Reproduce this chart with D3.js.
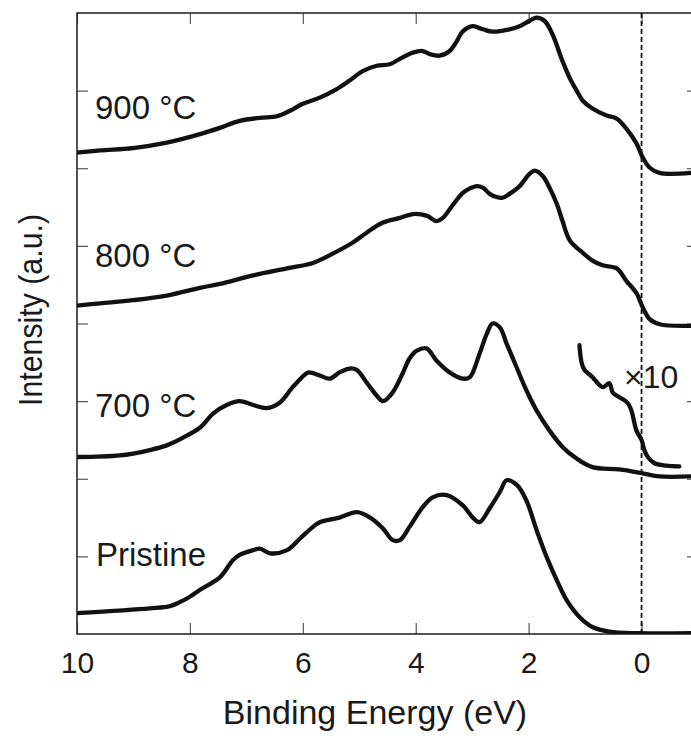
<!DOCTYPE html>
<html>
<head>
<meta charset="utf-8">
<script src="https://cdn.jsdelivr.net/npm/d3@7"></script>
<style>
  html, body { margin: 0; padding: 0; background: #fff; }
  svg { display: block; }
  text { font-family: "Liberation Sans", Arial, Helvetica, sans-serif; fill: #1a1a1a; }
</style>
</head>
<body>
<svg id="chart" width="691" height="736"></svg>
<script>
// ---- Data (binding energy in eV, intensity in arbitrary offset units) ----
const xTicks = [10, 8, 6, 4, 2, 0];
const yTicks = [1, 2, 3, 4, 5, 6, 7];
const seriesLabels = ["900 °C", "800 °C", "700 °C", "Pristine"];
const scaleLabel = "×10";

const pristineBE = [10.0, 8.71, 8.35, 8.18, 8.0, 7.82, 7.47, 7.24, 7.12, 6.88, 6.76, 6.58, 6.28, 6.05, 5.82, 5.70, 5.35, 5.04, 4.81, 4.58, 4.41, 4.28, 4.11, 3.88, 3.70, 3.45, 3.17, 2.99, 2.87, 2.69, 2.51, 2.39, 2.21, 2.04, 1.86, 1.68, 1.50, 1.33, 1.10, 0.87, 0.57, 0.04, -0.87];
const pristineI  = [0.27, 0.33, 0.36, 0.41, 0.48, 0.57, 0.73, 0.95, 1.02, 1.08, 1.10, 1.04, 1.08, 1.23, 1.38, 1.44, 1.50, 1.57, 1.50, 1.36, 1.21, 1.21, 1.38, 1.63, 1.76, 1.79, 1.66, 1.50, 1.44, 1.62, 1.83, 1.98, 1.92, 1.72, 1.34, 0.99, 0.69, 0.44, 0.22, 0.09, 0.03, 0.01, 0.01];

const t700BE = [10.0, 9.24, 8.71, 8.41, 8.12, 7.82, 7.59, 7.35, 7.12, 6.88, 6.64, 6.41, 6.18, 5.93, 5.88, 5.70, 5.52, 5.35, 5.17, 5.04, 4.87, 4.69, 4.58, 4.41, 4.23, 4.11, 3.98, 3.81, 3.63, 3.40, 3.17, 3.04, 2.87, 2.74, 2.64, 2.51, 2.39, 2.21, 2.04, 1.86, 1.63, 1.40, 1.15, 0.87, 0.39, -0.02, -0.32, -0.87];
const t700I  = [2.28, 2.30, 2.37, 2.43, 2.53, 2.66, 2.84, 2.95, 3.00, 2.95, 2.91, 2.98, 3.18, 3.36, 3.37, 3.33, 3.29, 3.37, 3.42, 3.40, 3.24, 3.07, 3.00, 3.11, 3.36, 3.55, 3.65, 3.68, 3.52, 3.37, 3.29, 3.31, 3.61, 3.87, 4.00, 3.95, 3.74, 3.43, 3.14, 2.88, 2.62, 2.41, 2.26, 2.15, 2.12, 2.07, 2.03, 2.03];

const t700x10BE = [1.10, 1.06, 1.01, 0.87, 0.69, 0.57, 0.51, 0.39, 0.25, 0.18, 0.09, 0.00, -0.05, -0.11, -0.23, -0.44, -0.67];
const t700x10I  = [3.72, 3.49, 3.40, 3.31, 3.18, 3.23, 3.11, 3.05, 2.98, 2.88, 2.62, 2.50, 2.37, 2.28, 2.20, 2.17, 2.16];

const t800BE = [10.0, 9.59, 9.01, 8.41, 7.82, 7.47, 6.88, 6.28, 5.82, 5.47, 5.12, 4.87, 4.58, 4.28, 4.05, 3.81, 3.63, 3.52, 3.35, 3.17, 3.04, 2.92, 2.81, 2.69, 2.57, 2.46, 2.34, 2.16, 1.98, 1.89, 1.75, 1.63, 1.50, 1.40, 1.27, 1.04, 0.87, 0.69, 0.44, 0.27, 0.09, -0.02, -0.14, -0.32, -0.87];
const t800I  = [4.23, 4.26, 4.30, 4.36, 4.46, 4.51, 4.62, 4.71, 4.78, 4.90, 5.04, 5.17, 5.30, 5.36, 5.41, 5.39, 5.32, 5.36, 5.52, 5.68, 5.74, 5.77, 5.75, 5.67, 5.63, 5.62, 5.67, 5.77, 5.93, 5.97, 5.90, 5.75, 5.54, 5.32, 5.07, 4.91, 4.81, 4.75, 4.71, 4.55, 4.39, 4.21, 4.06, 3.99, 3.97];

const t900BE = [10.0, 9.59, 9.01, 8.41, 7.82, 7.47, 7.12, 6.76, 6.46, 6.23, 6.00, 5.70, 5.40, 5.17, 4.94, 4.69, 4.46, 4.28, 4.05, 3.88, 3.75, 3.58, 3.40, 3.27, 3.17, 2.99, 2.81, 2.64, 2.34, 2.16, 1.98, 1.86, 1.72, 1.58, 1.40, 1.27, 1.15, 1.04, 0.87, 0.62, 0.44, 0.27, 0.09, -0.02, -0.14, -0.32, -0.87];
const t900I  = [6.20, 6.23, 6.26, 6.33, 6.44, 6.52, 6.61, 6.65, 6.67, 6.74, 6.83, 6.91, 7.02, 7.13, 7.25, 7.32, 7.34, 7.41, 7.49, 7.51, 7.47, 7.45, 7.51, 7.64, 7.76, 7.83, 7.79, 7.76, 7.79, 7.83, 7.90, 7.94, 7.90, 7.73, 7.38, 7.16, 7.00, 6.87, 6.77, 6.68, 6.64, 6.51, 6.32, 6.14, 6.01, 5.94, 5.94];

// ---- Layout ----
const svg = d3.select("#chart");
const mLeft = 77, mRight = 698, mTop = 13, mBottom = 634;

const x = d3.scaleLinear().domain([10, -1]).range([mLeft, mRight]);
const y = d3.scaleLinear().domain([0, 8]).range([mBottom, mTop]);

const tickColor = "#555";

// Bottom axis
const gx = svg.append("g").attr("transform", `translate(0,${mBottom})`)
  .call(d3.axisBottom(x).tickValues(xTicks).tickFormat(d3.format("d")).tickSizeInner(-11).tickSizeOuter(0).tickPadding(18));
gx.select(".domain").remove();
gx.selectAll(".tick line").attr("stroke", tickColor).attr("stroke-width", 1.2);
gx.selectAll(".tick text").style("font-size", "30px").attr("fill", "#1a1a1a");

// Top axis (ticks only)
const gt = svg.append("g").attr("transform", `translate(0,${mTop})`)
  .call(d3.axisTop(x).tickValues(xTicks).tickFormat("").tickSizeInner(-11).tickSizeOuter(0));
gt.select(".domain").remove();
gt.selectAll(".tick line").attr("stroke", tickColor).attr("stroke-width", 1.2);

// Left axis (ticks only)
const gl = svg.append("g").attr("transform", `translate(${mLeft},0)`)
  .call(d3.axisLeft(y).tickValues(yTicks).tickFormat("").tickSizeInner(-11).tickSizeOuter(0));
gl.select(".domain").remove();
gl.selectAll(".tick line").attr("stroke", tickColor).attr("stroke-width", 1.2);

// Right axis (ticks only)
const gr = svg.append("g").attr("transform", `translate(${mRight},0)`)
  .call(d3.axisRight(y).tickValues(yTicks).tickFormat("").tickSizeInner(-11).tickSizeOuter(0));
gr.select(".domain").remove();
gr.selectAll(".tick line").attr("stroke", tickColor).attr("stroke-width", 1.2);

// Frame
svg.append("rect")
  .attr("x", mLeft).attr("y", mTop)
  .attr("width", mRight - mLeft).attr("height", mBottom - mTop)
  .attr("fill", "none").attr("stroke", "#2a2a2a").attr("stroke-width", 1.6);

// Dashed Fermi level line
svg.append("line")
  .attr("x1", x(0)).attr("x2", x(0))
  .attr("y1", y(8)).attr("y2", y(0))
  .attr("stroke", "#111").attr("stroke-width", 1.8)
  .attr("stroke-dasharray", "5,3");

// Curves
const line = d3.line()
  .x(d => x(d[0]))
  .y(d => y(d[1]))
  .curve(d3.curveCatmullRom.alpha(0.5));

const series = [
  [t900BE, t900I],
  [t800BE, t800I],
  [t700BE, t700I],
  [t700x10BE, t700x10I],
  [pristineBE, pristineI]
];

svg.append("clipPath").attr("id", "plotclip")
  .append("rect").attr("x", mLeft).attr("y", mTop - 4)
  .attr("width", mRight - mLeft).attr("height", mBottom - mTop + 4);

svg.append("g").attr("clip-path", "url(#plotclip)")
  .selectAll("path.curve")
  .data(series)
  .join("path")
  .attr("class", "curve")
  .attr("d", s => line(s[0].map((b, i) => [b, s[1][i]])))
  .attr("fill", "none")
  .attr("stroke", "#111")
  .attr("stroke-width", 4.3)
  .attr("stroke-linejoin", "round")
  .attr("stroke-linecap", "round");

// Series labels
const labelPos = [
  { x: 95, y: 119 },
  { x: 95, y: 267 },
  { x: 95, y: 417 },
  { x: 96, y: 566 }
];
svg.selectAll("text.slabel")
  .data(seriesLabels)
  .join("text")
  .attr("class", "slabel")
  .attr("x", (d, i) => labelPos[i].x)
  .attr("y", (d, i) => labelPos[i].y)
  .style("font-size", "33px")
  .text(d => d);

svg.append("text")
  .attr("x", 624).attr("y", 388)
  .style("font-size", "32px")
  .text(scaleLabel);

// Axis titles
svg.append("text")
  .attr("x", 375).attr("y", 724)
  .attr("text-anchor", "middle")
  .style("font-size", "34px")
  .text("Binding Energy (eV)");

svg.append("text")
  .attr("transform", "translate(42,310) rotate(-90)")
  .attr("text-anchor", "middle")
  .style("font-size", "33px")
  .attr("textLength", 192)
  .attr("lengthAdjust", "spacingAndGlyphs")
  .text("Intensity (a.u.)");
</script>
</body>
</html>
